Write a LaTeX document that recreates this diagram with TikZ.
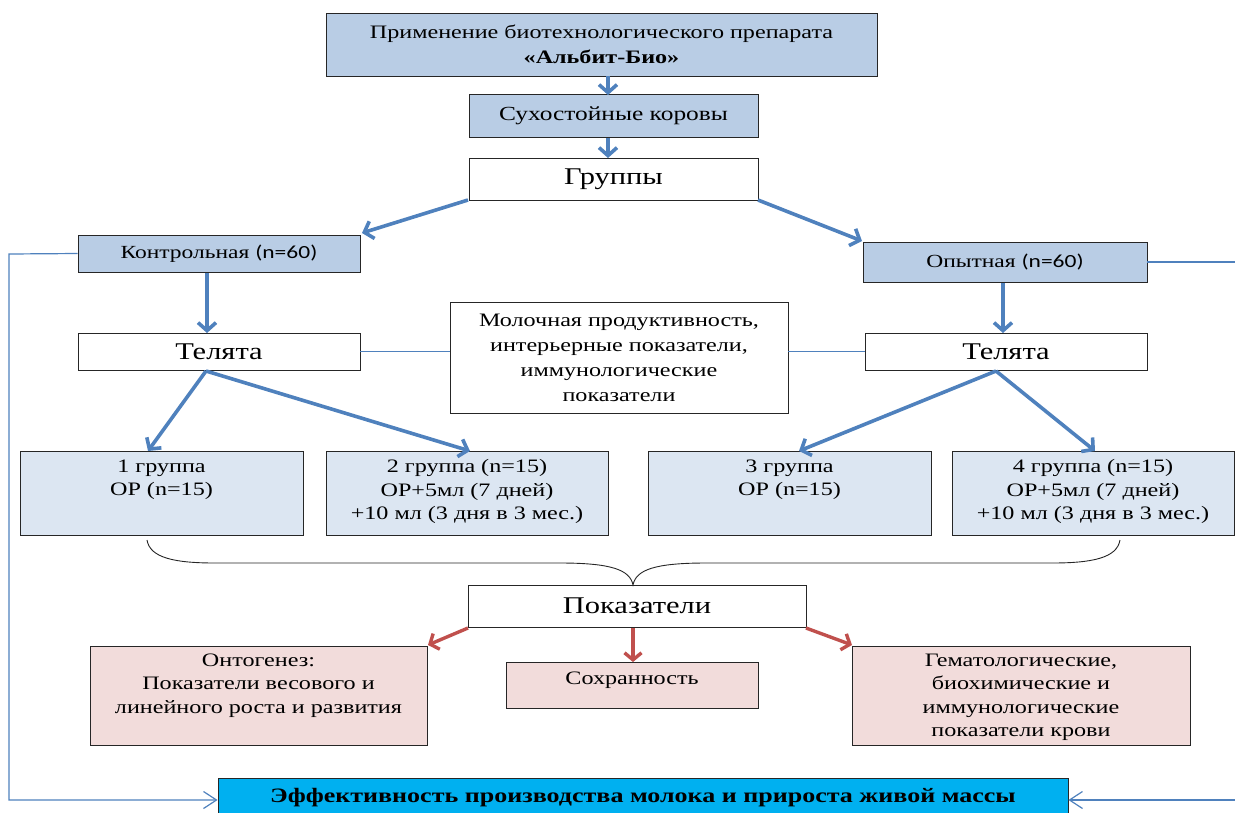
\documentclass[tikz,border=0pt]{standalone}
\usepackage{fontspec}
\setmainfont{Liberation Serif}[FakeStretch=1.27]
\newfontfamily\calfont{Carlito}[FakeStretch=1.27]
\usetikzlibrary{arrows.meta}
\definecolor{boxblue}{HTML}{B9CDE5}
\definecolor{lightblue}{HTML}{DCE6F2}
\definecolor{pinkbox}{HTML}{F2DCDB}
\definecolor{cyanbox}{HTML}{00B0F0}
\definecolor{arrblue}{HTML}{4F81BD}
\definecolor{arrred}{HTML}{C0504D}
\definecolor{linblue}{HTML}{4F81BD}
\begin{document}
\begin{tikzpicture}[x=1pt,y=-1pt,
  box/.style={draw=black!85, line width=0.8pt, inner sep=0pt, align=center,
    font=\fontsize{19}{23}\selectfont},
  bigtext/.style={font=\fontsize{24}{28}\selectfont},
  txt/.style={inner sep=0pt, align=center, anchor=north, font=\fontsize{19}{23.5}\selectfont},
  barrow/.style={draw=arrblue, line width=3.6pt, -{Straight Barb[length=8pt,width=18pt,line width=3.6pt]}},
  rarrow/.style={draw=arrred, line width=3.4pt, -{Straight Barb[length=7pt,width=17pt,line width=3.4pt]}},
  thinline/.style={draw=linblue, line width=1.2pt},
  fbarrow/.style={draw=linblue, line width=1.2pt, -{Straight Barb[length=13pt,width=17pt,line width=1.2pt]}}
]
\useasboundingbox (0,0) rectangle (1235,812);

% top chain
\node[box, fill=boxblue, minimum width=551pt, minimum height=63pt, font=\fontsize{19}{25}\selectfont] (top) at (601.5,44.5)
  {Применение биотехнологического препарата\\\textbf{«Альбит-Био»}};
\node[box, fill=boxblue, minimum width=289pt, minimum height=43pt, font=\fontsize{20}{24}\selectfont] (dry) at (613.5,115.5) {Сухостойные коровы};
\node[box, fill=white, minimum width=289pt, minimum height=42pt, bigtext] (grp) at (613.5,179) {Группы};

% control / experimental
\node[box, fill=boxblue, minimum width=282pt, minimum height=37pt, font=\fontsize{18.5}{22}\selectfont] (ctrl) at (219,253.5) {Контрольная {\calfont (n=60)}};
\node[box, fill=boxblue, minimum width=284pt, minimum height=40pt, font=\fontsize{18.5}{22}\selectfont] (exp) at (1005,262) {Опытная {\calfont (n=60)}};

% calves
\node[box, fill=white, minimum width=282pt, minimum height=37pt, bigtext] (calfL) at (219,351.5) {Телята};
\node[box, fill=white, minimum width=282pt, minimum height=37pt, bigtext] (calfR) at (1006,351.5) {Телята};

% middle box
\node[box, fill=white, minimum width=338pt, minimum height=111pt, font=\fontsize{19}{25}\selectfont] (mid) at (619,357.5)
  {Молочная продуктивность,\\интерьерные показатели,\\иммунологические\\показатели};

% group boxes
\node[box, fill=lightblue, minimum width=283pt, minimum height=84pt] (g1) at (161.5,493) {};
\node[box, fill=lightblue, minimum width=282pt, minimum height=84pt] (g2) at (467,493) {};
\node[box, fill=lightblue, minimum width=283pt, minimum height=84pt] (g3) at (789.5,493) {};
\node[box, fill=lightblue, minimum width=282pt, minimum height=84pt] (g4) at (1093,493) {};
\node[txt] (t1) at ([yshift=-9pt]g1.north) {1 группа\\ОР (n=15)};
\node[txt] (t2) at ([yshift=-9pt]g2.north) {2 группа (n=15)\\ОР+5мл (7 дней)\\+10 мл (3 дня в 3 мес.)};
\node[txt] (t3) at ([yshift=-9pt]g3.north) {3 группа\\ОР (n=15)};
\node[txt] (t4) at ([yshift=-9pt]g4.north) {4 группа (n=15)\\ОР+5мл (7 дней)\\+10 мл (3 дня в 3 мес.)};

% indicators
\node[box, fill=white, minimum width=338pt, minimum height=42pt, bigtext] (ind) at (637,606) {Показатели};
\node[box, fill=pinkbox, minimum width=337pt, minimum height=99pt] (p1) at (258.5,695.5) {};
\node[txt] (pt1) at ([yshift=-8pt]p1.north) {Онтогенез:\\Показатели весового и\\линейного роста и развития};
\node[box, fill=pinkbox, minimum width=252pt, minimum height=46pt] (p2) at (632,685) {};
\node[txt] (pt2) at ([yshift=-10pt]p2.north) {Сохранность};
\node[box, fill=pinkbox, minimum width=338pt, minimum height=99pt] (p3) at (1021,695.5) {};
\node[txt] (pt3) at ([yshift=-8pt]p3.north) {Гематологические,\\биохимические и\\иммунологические\\показатели крови};

% bottom result box
\node[box, fill=cyanbox, minimum width=850pt, minimum height=40pt, font=\fontsize{20.5}{23}\selectfont\bfseries] (res) at (643,798)
  {Эффективность производства молока и прироста живой массы};

% blue arrows
\draw[barrow] (608,76) -- (608,95);
\draw[barrow] (608,138) -- (608,158);
\draw[barrow] (468,200) -- (362,233);
\draw[barrow] (758,200) -- (862,241);
\draw[barrow] (207,273) -- (207,333);
\draw[barrow] (1003,283) -- (1003,333);
\draw[barrow] (206,371) -- (148,451);
\draw[barrow] (206,371) -- (470,451);
\draw[barrow] (996,371) -- (799,451);
\draw[barrow] (996,371) -- (1095,451);

% red arrows
\draw[rarrow] (468,628) -- (428,645);
\draw[rarrow] (633,628) -- (633,662);
\draw[rarrow] (806,628) -- (852,645);

% thin connectors
\draw[thinline] (calfL.east) -- (mid.west |- calfL.east);
\draw[thinline] (mid.east |- calfR.west) -- (calfR.west);
\coordinate (lcorner) at (9,254);
\coordinate (rcorner) at (1237,262);
\draw[fbarrow] (ctrl.west) -- (lcorner) -- (9,800) -- (res.west |- 0,800);
\draw[fbarrow] (exp.east) -- (rcorner) -- (1237,800) -- (res.east |- 0,800);

% brace
\draw[black!85, line width=0.9pt] (147,540) .. controls (150,558) and (175,563) .. (215,563) -- (560,563)
  .. controls (612,563) and (630,570) .. (633,585)
  .. controls (636,570) and (654,563) .. (706,563) -- (1052,563)
  .. controls (1092,563) and (1117,558) .. (1120,540);
\end{tikzpicture}
\end{document}
